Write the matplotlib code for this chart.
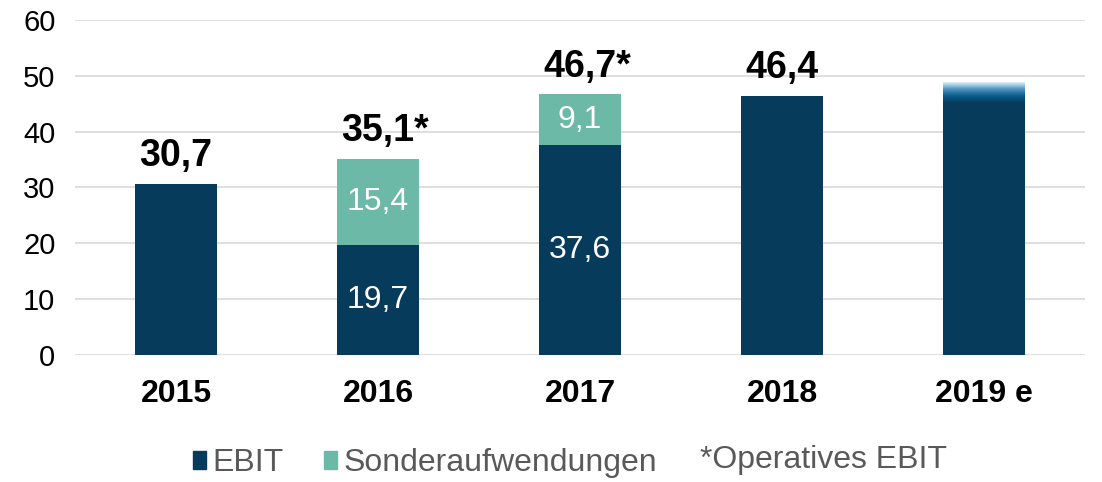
import matplotlib.pyplot as plt
import numpy as np
from matplotlib.colors import LinearSegmentedColormap
from matplotlib.patches import Patch

plt.rcParams['font.family'] = ['Liberation Sans', 'DejaVu Sans']

years = ['2015', '2016', '2017', '2018', '2019 e']
ebit = [30.7, 19.7, 37.6, 46.4, 48.8]
sonder = [0, 15.4, 9.1, 0, 0]
top_labels = ['30,7', '35,1*', '46,7*', '46,4', '']
ebit_labels = ['', '19,7', '37,6', '', '']
sonder_labels = ['', '15,4', '9,1', '', '']

navy = '#073B5C'
teal = '#6CB9A7'

fig = plt.figure(figsize=(11.02, 4.82), dpi=100)
ax = fig.add_axes([0.068, 0.2635, 0.9166, 0.695])

x = np.arange(len(years))
w = 0.405
ax.bar(x, ebit, w, color=navy, zorder=2)
ax.bar(x, sonder, w, bottom=ebit, color=teal, zorder=2)

# faded top of the estimate bar
fade = 3.6
cmap = LinearSegmentedColormap.from_list('fade', [navy, '#0A5B8A', '#4D94BF', '#DCEEF8'])
grad = np.linspace(0, 1, 50).reshape(-1, 1)
ax.imshow(grad, cmap=cmap, aspect='auto', origin='lower', zorder=3,
          extent=[x[4] - w / 2, x[4] + w / 2, ebit[4] - fade, ebit[4]])

for i in range(len(years)):
    total = ebit[i] + sonder[i]
    if top_labels[i]:
        off = 5 if top_labels[i].endswith('*') else 0
        ax.annotate(top_labels[i], (x[i], total), xytext=(off, 7), textcoords='offset points',
                    ha='center', va='bottom', fontsize=27, fontweight='bold', color='black')
    if ebit_labels[i]:
        ax.text(x[i], ebit[i] / 2, ebit_labels[i], ha='center', va='center',
                fontsize=23, color='white', zorder=4)
    if sonder_labels[i]:
        ax.text(x[i], ebit[i] + sonder[i] / 2, sonder_labels[i], ha='center', va='center',
                fontsize=23, color='white', zorder=4)

ax.set_xlim(-0.5, 4.5)
ax.set_ylim(0, 60)
ax.set_yticks(range(0, 61, 10))
ax.set_xticks(x)
ax.set_xticklabels(years, fontsize=23, fontweight='bold')
ax.tick_params(axis='y', labelsize=21, length=0, pad=14)
ax.tick_params(axis='x', length=0, pad=17)
ax.grid(axis='y', color='#D9D9D9', linewidth=1.2, zorder=0)
ax.set_axisbelow(True)
for s in ax.spines.values():
    s.set_visible(False)

handles = [Patch(color=navy, label='EBIT'), Patch(color=teal, label='Sonderaufwendungen')]
fig.legend(handles=handles, loc='center left', bbox_to_anchor=(0.175, 0.039), ncol=2,
           frameon=False, fontsize=23, labelcolor='#595959', handlelength=0.42,
           handleheight=0.48, handletextpad=0.2, columnspacing=1.25,
           borderpad=0, borderaxespad=0)
fig.text(0.635, 0.045, '*Operatives EBIT', fontsize=23, color='#595959', va='center')

fig.savefig('out.png', dpi=100)
